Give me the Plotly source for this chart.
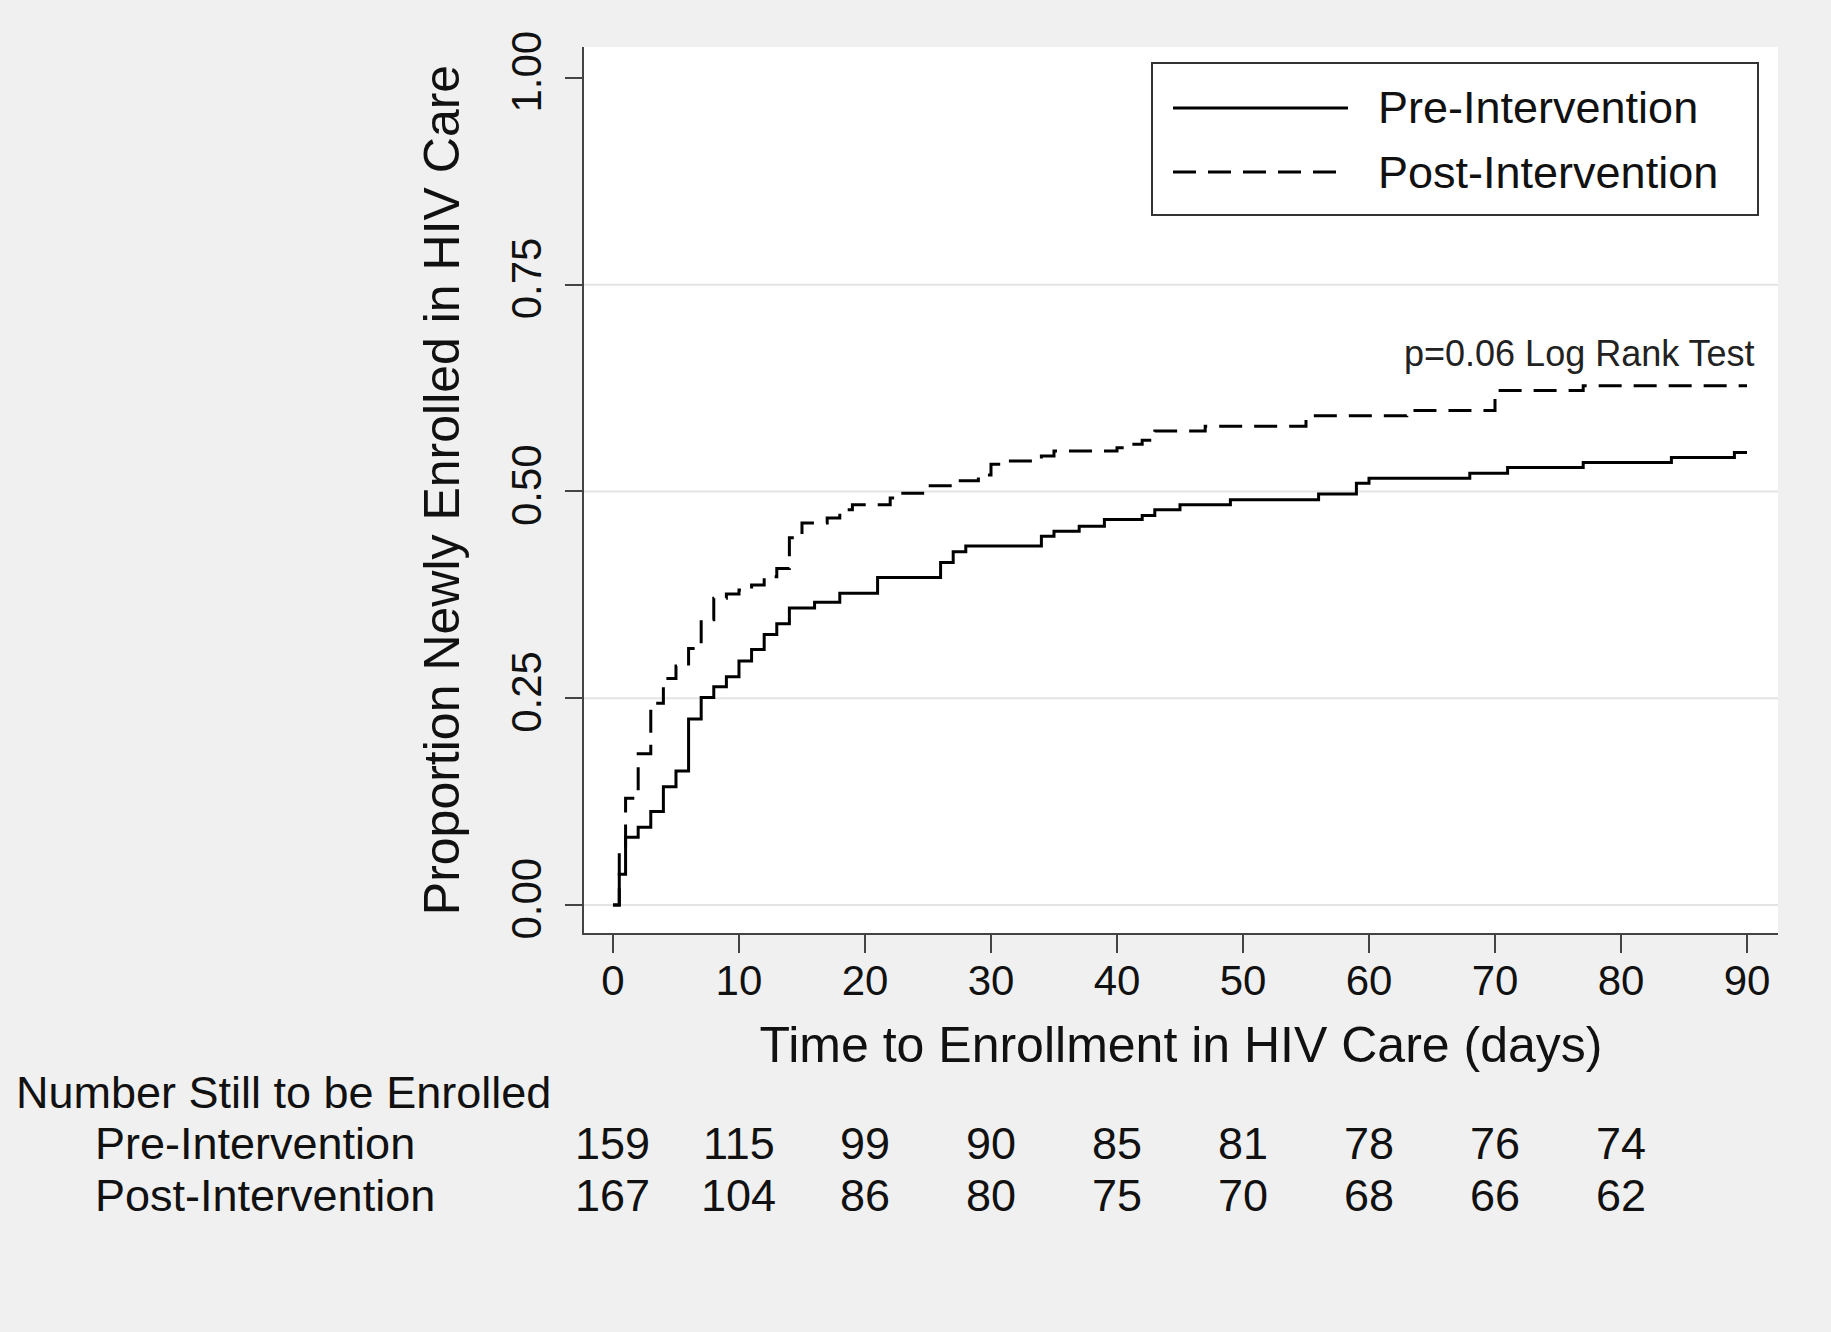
import plotly.graph_objects as go

# Kaplan-Meier style cumulative curves
pre_days = [0, 0.5, 1, 2, 3, 4, 5, 6, 7, 8, 9, 10, 11, 12, 13, 14, 16, 18, 21,
            26, 27, 28, 34, 35, 37, 39, 42, 43, 45, 49, 56, 59, 60, 68, 71, 77,
            84, 89, 90]
pre_prop = [0, 0.037, 0.082, 0.094, 0.113, 0.143, 0.162, 0.225, 0.251, 0.264,
            0.276, 0.295, 0.309, 0.327, 0.340, 0.359, 0.366, 0.377, 0.396,
            0.414, 0.427, 0.434, 0.446, 0.452, 0.458, 0.466, 0.471, 0.478,
            0.484, 0.490, 0.497, 0.510, 0.516, 0.522, 0.529, 0.535, 0.541,
            0.547, 0.547]

post_days = [0, 0.5, 1, 2, 3, 4, 5, 6, 7, 8, 9, 10, 11, 12, 13, 14, 15, 17, 18,
             19, 22, 23, 25, 27, 29, 30, 31, 34, 35, 40, 41, 42, 43, 47, 55, 63,
             70, 77, 90]
post_prop = [0, 0.065, 0.129, 0.183, 0.244, 0.274, 0.289, 0.310, 0.345, 0.371,
             0.376, 0.381, 0.387, 0.397, 0.407, 0.444, 0.462, 0.468, 0.478,
             0.484, 0.492, 0.498, 0.507, 0.513, 0.520, 0.533, 0.537, 0.543,
             0.549, 0.553, 0.557, 0.562, 0.573, 0.579, 0.5915, 0.598, 0.622,
             0.628, 0.628]

# number at risk table
table_days = [0, 10, 20, 30, 40, 50, 60, 70, 80]
pre_at_risk = [159, 115, 99, 90, 85, 81, 78, 76, 74]
post_at_risk = [167, 104, 86, 80, 75, 70, 68, 66, 62]

x_ticks = [0, 10, 20, 30, 40, 50, 60, 70, 80, 90]
y_ticks = [0, 0.25, 0.5, 0.75, 1.0]
grid_y = [0, 0.25, 0.5, 0.75]

FONT = "Liberation Sans, Arial, sans-serif"
INK = "#111111"
BG = "#f0f0f0"
DASH = "23px,12px"

fig = go.Figure()

fig.add_trace(go.Scatter(x=pre_days, y=pre_prop, mode="lines", line_shape="hv",
                         name="Pre-Intervention",
                         line=dict(color="black", width=3)))
fig.add_trace(go.Scatter(x=post_days, y=post_prop, mode="lines", line_shape="hv",
                         name="Post-Intervention",
                         line=dict(color="black", width=3, dash=DASH)))

# light horizontal grid lines (none at 1.00 in the original)
for g in grid_y:
    fig.add_shape(type="line", xref="paper", yref="y", x0=0, x1=1, y0=g, y1=g,
                  line=dict(color="#e4e4e4", width=2), layer="below")

fig.add_annotation(x=90.8, y=0.667, xref="x", yref="y", xanchor="right",
                   text="p=0.06 Log Rank Test", showarrow=False,
                   font=dict(family=FONT, size=36, color="#222222"))

# hand-drawn legend box (Stata style: long samples, gap before text)
def px_x(p):
    return (p - 584) / 1194.0

def px_y(p):
    return (933 - p) / 886.0

fig.add_shape(type="rect", xref="paper", yref="paper",
              x0=px_x(1152), x1=px_x(1758), y0=px_y(215), y1=px_y(63),
              fillcolor="white", line=dict(color="#333333", width=2))
for name, ypix, dash in [("Pre-Intervention", 108, "solid"),
                         ("Post-Intervention", 172, DASH)]:
    fig.add_shape(type="line", xref="paper", yref="paper",
                  x0=px_x(1173), x1=px_x(1348), y0=px_y(ypix), y1=px_y(ypix),
                  line=dict(color="black", width=3, dash=dash))
    fig.add_annotation(x=px_x(1376), y=px_y(ypix), xref="paper", yref="paper",
                       xanchor="left", yanchor="middle", showarrow=False,
                       text=name, font=dict(family=FONT, size=45, color=INK))

# risk table below the axis
fig.add_annotation(x=-0.4774, y=-0.1795, xref="paper", yref="paper",
                   xanchor="left", yanchor="middle", showarrow=False,
                   text="Number Still to be Enrolled",
                   font=dict(family=FONT, size=45, color=INK))
row_y = {"Pre-Intervention": -0.238, "Post-Intervention": -0.2968}
for label, counts in [("Pre-Intervention", pre_at_risk),
                      ("Post-Intervention", post_at_risk)]:
    fig.add_annotation(x=-0.4112, y=row_y[label], xref="paper", yref="paper",
                       xanchor="left", yanchor="middle", showarrow=False,
                       text=label, font=dict(family=FONT, size=45, color=INK))
    for d, n in zip(table_days, counts):
        fig.add_annotation(x=d, y=row_y[label], xref="x", yref="paper",
                           xanchor="center", yanchor="middle", showarrow=False,
                           text=str(n), font=dict(family=FONT, size=45, color=INK))

fig.update_layout(
    width=1831, height=1332,
    margin=dict(l=584, r=53, t=47, b=399, autoexpand=False),
    paper_bgcolor=BG, plot_bgcolor="white",
    font=dict(family=FONT, color=INK),
    showlegend=False,
)

fig.update_xaxes(range=[-2.3, 92.46], tickvals=x_ticks, showgrid=False,
                 zeroline=False, showline=True, linecolor="#444444", linewidth=2,
                 ticks="outside", ticklen=18, tickwidth=2, tickcolor="#444444",
                 ticklabelstandoff=-8,
                 tickfont=dict(family=FONT, size=42, color=INK),
                 title=dict(text="Time to Enrollment in HIV Care (days)",
                            font=dict(family=FONT, size=50, color=INK),
                            standoff=24))
fig.update_yaxes(range=[-0.0339, 1.0375], tickvals=y_ticks,
                 ticktext=[f"{v:.2f}" for v in y_ticks], tickangle=-90,
                 showgrid=False, zeroline=False, showline=True,
                 linecolor="#444444", linewidth=2, ticks="outside", ticklen=17,
                 tickwidth=2, tickcolor="#444444", ticklabelstandoff=7,
                 tickfont=dict(family=FONT, size=42, color=INK),
                 title=dict(text="Proportion Newly Enrolled in HIV Care",
                            font=dict(family=FONT, size=50, color=INK),
                            standoff=28))

fig.write_html("out.html", config={"displayModeBar": False},
               post_script="document.body.style.margin='0';")
